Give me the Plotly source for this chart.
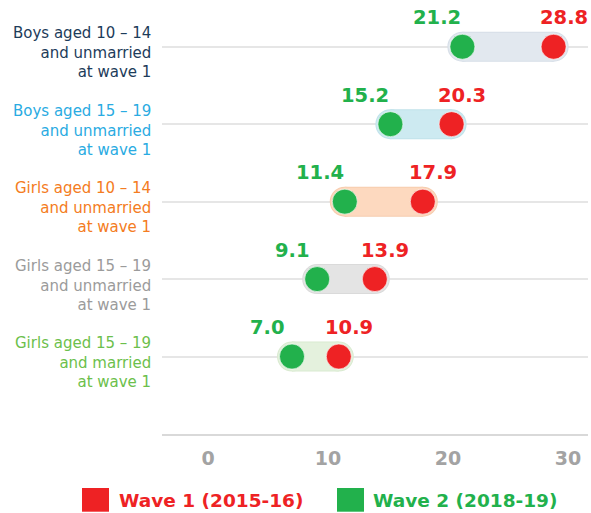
import plotly.graph_objects as go

categories = [
    "Boys aged 10 \u2013 14<br>and unmarried<br>at wave 1",
    "Boys aged 15 \u2013 19<br>and unmarried<br>at wave 1",
    "Girls aged 10 \u2013 14<br>and unmarried<br>at wave 1",
    "Girls aged 15 \u2013 19<br>and unmarried<br>at wave 1",
    "Girls aged 15 \u2013 19<br>and married<br>at wave 1",
]
wave1 = [28.8, 20.3, 17.9, 13.9, 10.9]
wave2 = [21.2, 15.2, 11.4, 9.1, 7.0]
x_ticks = [0, 10, 20, 30]
legend_names = ["Wave 1 (2015-16)", "Wave 2 (2018-19)"]

label_colors = ["#1d3c5a", "#2aabe2", "#f47c22", "#9b9b9b", "#6cbf4c"]
capsule_colors = ["#e2e8ef", "#cdeaf1", "#fdd9bf", "#e4e4e4", "#e4f1dd"]
capsule_edges = ["#d6dee7", "#c0e2ea", "#f6ccae", "#dadada", "#d9ead0"]
RED = "#ee2224"
GREEN = "#22b14c"
LABEL_FONT = "DejaVu Sans"

n = len(categories)
ypos = [n - 1 - i for i in range(n)]

fig = go.Figure()

for i in range(n):
    xs = [wave2[i], wave1[i]]
    ys = [ypos[i], ypos[i]]
    fig.add_trace(go.Scatter(x=xs, y=ys, mode="lines+markers",
                             line=dict(color=capsule_edges[i], width=30),
                             marker=dict(size=30, color=capsule_edges[i]),
                             hoverinfo="skip", showlegend=False))
    fig.add_trace(go.Scatter(x=xs, y=ys, mode="lines+markers",
                             line=dict(color=capsule_colors[i], width=28),
                             marker=dict(size=28, color=capsule_colors[i]),
                             hoverinfo="skip", showlegend=False))

fig.add_trace(go.Scatter(x=wave1, y=ypos, mode="markers", name=legend_names[0],
                         marker=dict(size=25, color=RED, line=dict(color="rgba(255,255,255,0.6)", width=1)),
                         showlegend=False))
fig.add_trace(go.Scatter(x=wave2, y=ypos, mode="markers", name=legend_names[1],
                         marker=dict(size=25, color=GREEN, line=dict(color="rgba(255,255,255,0.6)", width=1)),
                         showlegend=False))

annotations = []
for i in range(n):
    annotations.append(dict(x=wave2[i], y=ypos[i], text=f"{wave2[i]:.1f}", showarrow=False,
                            xshift=-25, yshift=29, xanchor="center", yanchor="middle",
                            font=dict(family=LABEL_FONT, size=19.5, color=GREEN, weight="bold")))
    annotations.append(dict(x=wave1[i], y=ypos[i], text=f"{wave1[i]:.1f}", showarrow=False,
                            xshift=10, yshift=29, xanchor="center", yanchor="middle",
                            font=dict(family=LABEL_FONT, size=19.5, color=RED, weight="bold")))
    annotations.append(dict(x=0, xref="paper", y=ypos[i], text=categories[i], showarrow=False,
                            xanchor="right", yanchor="middle", align="right", xshift=-9, yshift=-6,
                            font=dict(family=LABEL_FONT, size=15, color=label_colors[i])))

# legend
annotations.append(dict(x=-0.1056, xref="paper", y=-0.155, yref="paper", text=legend_names[0],
                        showarrow=False, xanchor="left", yanchor="middle",
                        font=dict(family=LABEL_FONT, size=18.5, color=RED, weight="bold")))
annotations.append(dict(x=0.4906, xref="paper", y=-0.155, yref="paper", text=legend_names[1],
                        showarrow=False, xanchor="left", yanchor="middle",
                        font=dict(family=LABEL_FONT, size=18.5, color=GREEN, weight="bold")))
shapes = [
    dict(type="rect", xref="paper", yref="paper", x0=-0.1878, x1=-0.1244, y0=-0.1824, y1=-0.1268,
         fillcolor=RED, line=dict(width=0)),
    dict(type="rect", xref="paper", yref="paper", x0=0.4108, x1=0.4742, y0=-0.1824, y1=-0.1268,
         fillcolor=GREEN, line=dict(width=0)),
]

fig.update_layout(
    width=591, height=513,
    margin=dict(l=162, r=3, t=8, b=79),
    plot_bgcolor="white", paper_bgcolor="white",
    annotations=annotations, shapes=shapes,
    showlegend=False,
    xaxis=dict(range=[-3.833, 31.667], tickvals=x_ticks, showgrid=False, zeroline=False,
               showline=True, linecolor="#d9d9d9", linewidth=2, ticks="",
               ticklabelstandoff=6,
               tickfont=dict(family=LABEL_FONT, size=19, color="#a3a3a3", weight="bold"),
               fixedrange=True),
    yaxis=dict(range=[-1, 4.5], tickvals=ypos, showticklabels=False, showgrid=True,
               gridcolor="#e6e6e6", gridwidth=1.5, zeroline=False, showline=False,
               fixedrange=True),
)

fig.write_html("out.html", config={"displayModeBar": False},
               post_script="document.body.style.margin='0';")
